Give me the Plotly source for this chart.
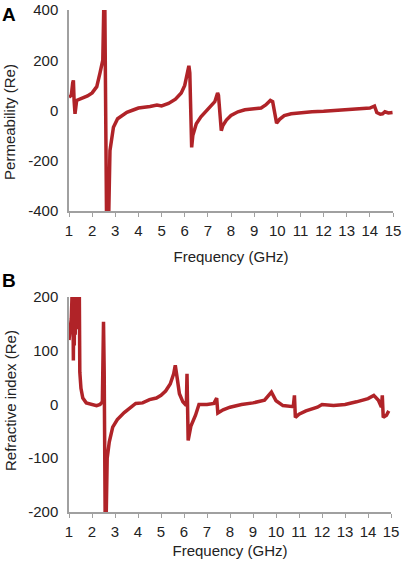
import plotly.graph_objects as go

# panel A: permeability (real part)
freq_a = [1.0, 1.1, 1.16, 1.19, 1.22, 1.26, 1.33, 1.6, 1.8, 2.0, 2.2, 2.34, 2.46, 2.5,
          2.55, 2.62, 2.72, 2.77, 2.85, 2.92, 3.1, 3.3, 3.5, 3.8, 4.0, 4.5, 4.8, 5.0,
          5.3, 5.6, 5.85, 6.0, 6.1, 6.18, 6.22, 6.3, 6.35, 6.5, 6.7, 6.9, 7.1, 7.3,
          7.42, 7.46, 7.58, 7.65, 7.8, 8.0, 8.3, 8.6, 9.0, 9.3, 9.5, 9.7, 9.8, 9.9,
          9.97, 10.1, 10.3, 10.6, 11.0, 11.5, 12.0, 12.5, 13.0, 13.5, 14.0, 14.2,
          14.3, 14.45, 14.55, 14.65, 14.8, 14.98]
perm_re = [53, 60, 110, 120, 40, -13, 40, 50, 58, 70, 95, 150, 200, 400,
           400, -400, -400, -160, -100, -67, -33, -18, -7, 3, 10, 16, 22, 18,
           28, 45, 70, 100, 140, 178, 150, -147, -100, -53, -25, -5, 10, 35,
           70, 60, -80, -60, -38, -20, -5, 3, 7, 10, 22, 40, 35, -20,
           -50, -35, -20, -13, -8, -5, -3, 0, 2, 7, 10, 18,
           -8, -15, -13, -5, -10, -8]

# panel B: refractive index (real part)
freq_b = [1.0, 1.05, 1.1, 1.13, 1.15, 1.17, 1.19, 1.21, 1.23, 1.25, 1.27, 1.29, 1.31,
          1.33, 1.35, 1.37, 1.39, 1.41, 1.43, 1.45, 1.47, 1.52, 1.6, 1.75, 2.0, 2.2,
          2.35, 2.45, 2.5, 2.53, 2.57, 2.62, 2.66, 2.75, 2.9, 3.1, 3.4, 3.7, 3.9,
          4.2, 4.5, 4.8, 5.0, 5.2, 5.4, 5.55, 5.62, 5.7, 5.8, 5.95, 6.1, 6.13, 6.18,
          6.3, 6.5, 6.65, 7.0, 7.3, 7.42, 7.47, 7.7, 8.0, 8.5, 9.0, 9.5, 9.8, 10.0,
          10.3, 10.75, 10.8, 10.84, 11.0, 11.3, 11.8, 12.0, 12.5, 13.0, 13.5, 14.0,
          14.25, 14.45, 14.58, 14.62, 14.66, 14.8, 14.9]
refr_re = [120, 140, 160, 200, 150, 200, 82, 200, 110, 200, 130, 200, 140,
           200, 160, 200, 170, 200, 180, 200, 60, 30, 12, 3, 0, -2,
           0, 5, 154, 60, -200, -200, -100, -70, -42, -28, -15, -5, 2,
           3, 9, 12, 17, 25, 38, 57, 73, 50, 20, 5, -2, 57, -67,
           -40, -20, 0, 0, 2, 12, -16, -10, -5, 0, 3, 8, 23, 7,
           -2, -4, 17, -24, -18, -12, -5, 0, -2, 0, 5, 11,
           17, 8, -5, 17, -24, -20, -12]

x_ticks = list(range(1, 16))
perm_ticks = [-400, -200, 0, 200, 400]
refr_ticks = [-200, -100, 0, 100, 200]
red = "#b02328"
grey = "#a0a0a0"
font = "Liberation Sans, Arial, sans-serif"

fig = go.Figure()
fig.add_trace(go.Scatter(x=freq_a, y=perm_re, mode="lines",
                         line=dict(color=red, width=3.5), xaxis="x", yaxis="y"))
fig.add_trace(go.Scatter(x=freq_b, y=refr_re, mode="lines",
                         line=dict(color=red, width=3.5), xaxis="x2", yaxis="y2"))

xstyle = dict(range=[1, 15], tickvals=x_ticks, showgrid=False, zeroline=False,
              showline=True, linecolor=grey, linewidth=1.5, ticks="outside",
              ticklen=4, tickcolor=grey, tickfont=dict(size=15, color="#222"),
              ticklabelstandoff=1, ticklabeloverflow="allow", automargin=False)
ystyle = dict(showgrid=False, zeroline=False, showline=True, linecolor=grey,
              linewidth=1.5, ticks="", tickfont=dict(size=15, color="#222"),
              ticklabelstandoff=6, ticklabeloverflow="allow", automargin=False)

fig.update_layout(
    width=404, height=564,
    margin=dict(l=69, r=11, t=10, b=52),
    paper_bgcolor="white", plot_bgcolor="white",
    showlegend=False,
    font=dict(family=font, color="#222"),
    xaxis=dict(xstyle, domain=[0, 1], anchor="y",
               title=dict(text="Frequency (GHz)", font=dict(size=15), standoff=14)),
    yaxis=dict(ystyle, domain=[0.5996, 1], anchor="x", range=[-400, 400],
               tickvals=perm_ticks, ticktext=[str(v) for v in perm_ticks]),
    xaxis2=dict(xstyle, domain=[0, 0.994], anchor="y2",
                title=dict(text="Frequency (GHz)", font=dict(size=15), standoff=7)),
    yaxis2=dict(ystyle, domain=[0, 0.4283], anchor="x2", range=[-200, 200],
                tickvals=refr_ticks, ticktext=[str(v) for v in refr_ticks]),
)

# axis titles on the left and panel letters
labels = [("Permeability (Re)", 0.777, -90, 15, -59),
          ("Refractive index (Re)", 0.2211, -90, 15, -59),
          ("<b>A</b>", 0.992, 0, 19, -60),
          ("<b>B</b>", 0.462, 0, 19, -60)]
for text, ypos, angle, size, shift in labels:
    fig.add_annotation(text=text, x=0, y=ypos, xref="paper", yref="paper",
                       xanchor="center", yanchor="middle", textangle=angle,
                       xshift=shift, showarrow=False,
                       font=dict(size=size, color="#222" if angle else "black"))

fig.write_html("out.html", config={"displayModeBar": False},
               post_script="document.body.style.margin='0';")
